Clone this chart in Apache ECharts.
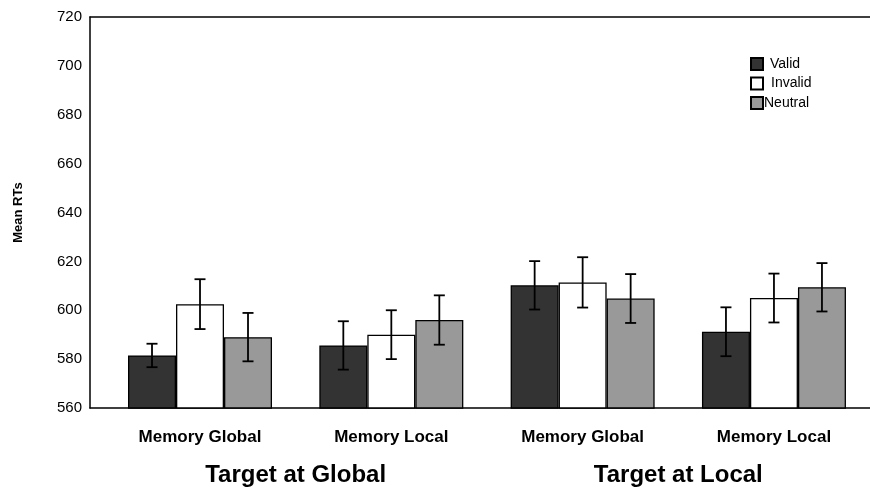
<!DOCTYPE html>
<html>
<head>
<meta charset="utf-8">
<script src="https://cdn.jsdelivr.net/npm/echarts@6/dist/echarts.min.js"></script>
<style>
  html, body { margin: 0; padding: 0; background: #fff; }
  #chart { width: 870px; height: 492px; }
</style>
</head>
<body>
<div id="chart"></div>
<script>
// Conditions (one group of three bars each) and their parent target condition
const conditions = ['Memory Global', 'Memory Local', 'Memory Global', 'Memory Local'];
const targets = ['Target at Global', 'Target at Local'];

// Mean reaction times per cue type
const valid   = [581.5, 585.6, 610.2, 591.2];
const invalid = [602.5, 590.0, 611.4, 605.0];
const neutral = [589.0, 596.0, 604.8, 609.4];

// Half-widths of the error bars
const validErr   = [4.8, 9.9, 9.9, 10.0];
const invalidErr = [10.2, 10.0, 10.3, 10.0];
const neutralErr = [9.9, 10.1, 10.0, 9.9];

// Y axis ticks
const yTicks = [560, 580, 600, 620, 640, 660, 680, 700, 720];

const FONT = 'Arial, "Liberation Sans", sans-serif';
const BAR_WIDTH = 48;

const seriesDefs = [
  { name: 'Valid',   values: valid,   errs: validErr,   color: '#333333', slot: -1 },
  { name: 'Invalid', values: invalid, errs: invalidErr, color: '#ffffff', slot: 0 },
  { name: 'Neutral', values: neutral, errs: neutralErr, color: '#999999', slot: 1 }
];

const barSeries = seriesDefs.map(s => ({
  name: s.name,
  type: 'bar',
  barWidth: BAR_WIDTH,
  barGap: '0%',
  data: s.values.map((v, i) => [i, v]),
  itemStyle: { color: s.color, borderColor: '#000', borderWidth: 1.3 },
  emphasis: { disabled: true },
  z: 2
}));

const errSeries = seriesDefs.map(s => ({
  name: s.name + ' error',
  type: 'custom',
  z: 5,
  silent: true,
  data: s.values.map((v, i) => [i, v - s.errs[i], v + s.errs[i]]),
  renderItem: function (params, api) {
    const x = api.value(0);
    const lo = api.coord([x, api.value(1)]);
    const hi = api.coord([x, api.value(2)]);
    const cx = lo[0] + s.slot * BAR_WIDTH;
    const cap = 5.5;
    const style = { stroke: '#000', lineWidth: 1.8, fill: null };
    return {
      type: 'group',
      children: [
        { type: 'line', shape: { x1: cx, y1: lo[1], x2: cx, y2: hi[1] }, style: style },
        { type: 'line', shape: { x1: cx - cap, y1: hi[1], x2: cx + cap, y2: hi[1] }, style: style },
        { type: 'line', shape: { x1: cx - cap, y1: lo[1], x2: cx + cap, y2: lo[1] }, style: style }
      ]
    };
  }
}));

const X_MIN = -0.575, X_MAX = 3.502;

// Legend labels sit at slightly different distances from their swatches
const legendPad = { Valid: 2, Invalid: 3, Neutral: -4 };

const option = {
  animation: false,
  backgroundColor: '#fff',
  textStyle: { fontFamily: FONT },
  grid: { left: 90, right: 0, top: 17, bottom: 84, outerBoundsMode: 'none' },
  legend: {
    orient: 'vertical',
    left: 745,
    top: 52,
    itemWidth: 12,
    itemHeight: 12,
    itemGap: 5.5,
    icon: 'rect',
    data: seriesDefs.map(s => s.name),
    formatter: name => '{' + name + '|' + name + '}',
    textStyle: {
      fontFamily: FONT, fontSize: 14, color: '#000',
      rich: {
        Valid:   { fontFamily: FONT, fontSize: 14, color: '#000', padding: [0, 0, 0, legendPad.Valid] },
        Invalid: { fontFamily: FONT, fontSize: 14, color: '#000', padding: [0, 0, 0, legendPad.Invalid] },
        Neutral: { fontFamily: FONT, fontSize: 14, color: '#000', padding: [0, 0, 0, legendPad.Neutral] }
      }
    },
    selectedMode: false
  },
  xAxis: [
    {
      type: 'value',
      min: X_MIN, max: X_MAX,
      position: 'bottom',
      axisLine: { show: true, onZero: false, lineStyle: { color: '#000', width: 1.5 } },
      axisTick: { show: false },
      splitLine: { show: false },
      axisLabel: {
        customValues: [0, 1, 2, 3],
        formatter: v => conditions[Math.round(v)],
        margin: 21,
        fontFamily: FONT, fontSize: 17, fontWeight: 'bold', color: '#000'
      }
    },
    {
      type: 'value',
      min: X_MIN, max: X_MAX,
      position: 'bottom',
      axisLine: { show: false, onZero: false },
      axisTick: { show: false },
      splitLine: { show: false },
      axisLabel: {
        customValues: [0.5, 2.5],
        formatter: v => targets[v < 1.5 ? 0 : 1],
        margin: 55,
        fontFamily: FONT, fontSize: 24, fontWeight: 'bold', color: '#000'
      }
    },
    {
      type: 'value',
      min: X_MIN, max: X_MAX,
      position: 'top',
      axisLine: { show: true, onZero: false, lineStyle: { color: '#000', width: 1.5 } },
      axisTick: { show: false },
      splitLine: { show: false },
      axisLabel: { show: false }
    }
  ],
  yAxis: {
    type: 'value',
    min: yTicks[0],
    max: yTicks[yTicks.length - 1],
    interval: yTicks[1] - yTicks[0],
    name: 'Mean RTs',
    nameLocation: 'middle',
    nameRotate: 90,
    nameGap: 65,
    nameTextStyle: { fontFamily: FONT, fontSize: 13, fontWeight: 'bold', color: '#000' },
    axisLine: { show: true, onZero: false, lineStyle: { color: '#000', width: 1.5 } },
    axisTick: { show: false },
    splitLine: { show: false },
    axisLabel: { margin: 8, fontFamily: FONT, fontSize: 15, color: '#000' }
  },
  series: barSeries.concat(errSeries)
};

const chart = echarts.init(document.getElementById('chart'), null, { renderer: 'canvas' });
chart.setOption(option);
</script>
</body>
</html>
